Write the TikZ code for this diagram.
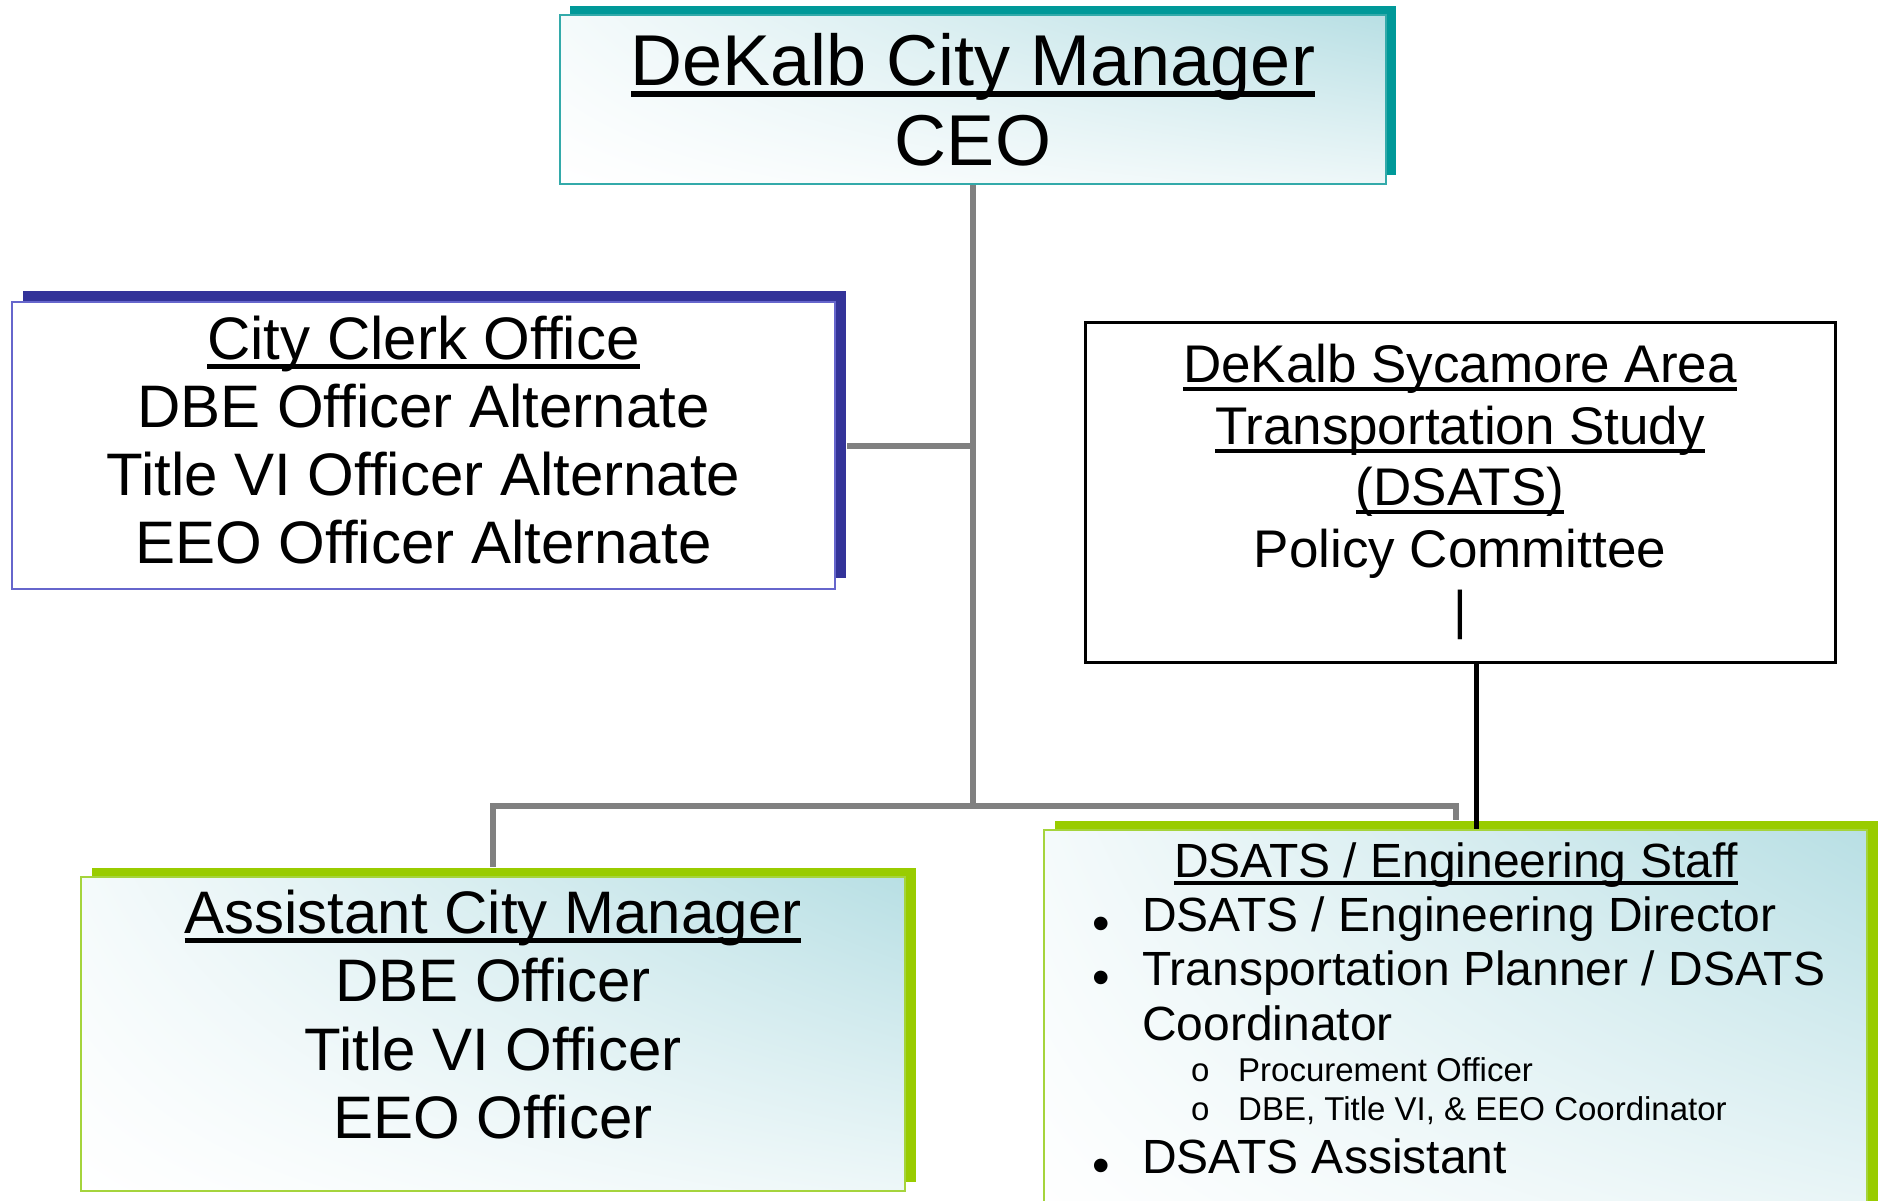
\documentclass[tikz,border=0pt]{standalone}
\usepackage{fontspec}
\setmainfont{Liberation Sans}
\usetikzlibrary{shadows,shadings}

\definecolor{ceoTeal}{RGB}{0,153,153}
\definecolor{ceoEdge}{RGB}{51,170,170}
\definecolor{clerkNavy}{RGB}{51,51,153}
\definecolor{clerkEdge}{RGB}{102,102,204}
\definecolor{staffGreen}{RGB}{153,204,0}
\definecolor{staffEdge}{RGB}{165,212,60}
\definecolor{boxCyan}{RGB}{184,223,228}
\definecolor{linkGray}{RGB}{128,128,128}

\newsavebox{\hdbox}
\newcommand{\hdline}[1]{\sbox{\hdbox}{#1}\rlap{\rule[-0.16em]{\wd\hdbox}{0.075em}}\usebox{\hdbox}}
\newcommand{\fsz}[2]{\fontsize{#1}{#2}\selectfont}

\begin{document}
\begin{tikzpicture}[x=1pt,y=-1pt]

\tikzset{orgBox/.style={rectangle,inner sep=0pt,align=center,line width=2pt}}
\tikzset{glassFill/.style={upper right=boxCyan,upper left=white!85!boxCyan,lower left=white,lower right=white!75!boxCyan}}
\tikzset{ceoBox/.style={orgBox,glassFill,draw=ceoEdge,general shadow={shadow xshift=10pt,shadow yshift=9pt,fill=ceoTeal}}}
\tikzset{clerkBox/.style={orgBox,fill=white,draw=clerkEdge,general shadow={shadow xshift=11pt,shadow yshift=11pt,fill=clerkNavy}}}
\tikzset{greenBox/.style={orgBox,glassFill,draw=staffEdge,general shadow={shadow xshift=11pt,shadow yshift=9pt,fill=staffGreen}}}
\tikzset{policyBox/.style={orgBox,fill=white,draw=black,line width=3pt}}
\tikzset{staffText/.style={inner sep=0pt,anchor=base west,font=\fsz{48}{55}}}
\tikzset{subText/.style={inner sep=0pt,anchor=base west,font=\fsz{33}{38}}}
\tikzset{dotText/.style={inner sep=0pt,anchor=base,font=\fsz{50}{55}}}
\tikzset{toGray/.style={draw=linkGray,line width=6pt}}
\tikzset{toBlack/.style={draw=black,line width=5pt}}

\useasboundingbox (0,0) rectangle (1879,1200);

\node[ceoBox,minimum width=826pt,minimum height=169pt,font=\fsz{72}{80}] (ceo) at (973,99.5)
  {\hdline{DeKalb City Manager}\\CEO};

\node[clerkBox,minimum width=823pt,minimum height=287pt,font=\fsz{60}{68}] (clerk) at (423.5,445.5)
  {\hdline{City Clerk Office}\\DBE Officer Alternate\\Title VI Officer Alternate\\EEO Officer Alternate\rule[-12pt]{0pt}{1pt}};

\node[policyBox,minimum width=750pt,minimum height=340pt,font=\fsz{53}{61.5}] (policy) at (1460,492)
  {\hdline{DeKalb Sycamore Area}\\\hdline{Transportation Study}\\\hdline{(DSATS)}\\Policy Committee\\|};

\node[greenBox,minimum width=824pt,minimum height=314pt,font=\fsz{60}{68.5}] (asst) at (493,1034)
  {\hdline{Assistant City Manager}\\DBE Officer\\Title VI Officer\\EEO Officer\rule[-40pt]{0pt}{1pt}};

\node[greenBox,minimum width=823pt,minimum height=410pt] (staff) at (1455.5,1035) {};

% staff list
\node[inner sep=0pt,anchor=base,font=\fsz{48}{55}] (staffHead) at (1456,877) {\hdline{DSATS / Engineering Staff}};
\node[dotText] (d1) at (1101,940) {\textbullet};
\node[staffText] (s1) at (1142,931) {DSATS / Engineering Director};
\node[dotText] (d2) at (1101,994) {\textbullet};
\node[staffText] (s2) at (1142,985) {Transportation Planner / DSATS};
\node[staffText] (s2b) at (1142,1040) {Coordinator};
\node[subText] (o1) at (1191,1081) {o};
\node[subText] (p1) at (1238,1081) {Procurement Officer};
\node[subText] (o2) at (1191,1120) {o};
\node[subText] (p2) at (1238,1120) {DBE, Title VI, \& EEO Coordinator};
\node[dotText] (d3) at (1101,1182) {\textbullet};
\node[staffText] (s3) at (1142,1173) {DSATS Assistant};

\coordinate (hub) at (973,806);

\draw[toGray] (ceo.south) -- (hub);
\draw[toGray] ([xshift=11pt]clerk.east) -- (ceo.south |- clerk.east);
\draw[toGray] (hub) -| ([yshift=9pt]asst.north);
\draw[toGray] (hub) -| ([yshift=9pt]staff.north);
\draw[toBlack] ([xshift=16pt]policy.south) -- ([xshift=16pt]policy.south |- staff.north);

\end{tikzpicture}
\end{document}
